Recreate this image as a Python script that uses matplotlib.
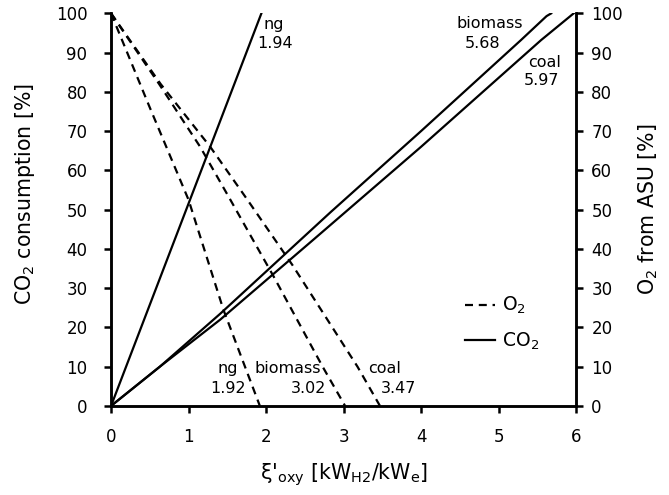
import matplotlib
matplotlib.use("Agg")
import matplotlib.pyplot as plt

# O2 from ASU [%] vs xi'_oxy (dashed)
o2_ng_x = [0, 0.50, 1.00, 1.45, 1.92]
o2_ng_y = [100, 76, 52.5, 24.5, 0]
o2_bio_x = [0, 0.62, 1.15, 1.54, 2.10, 2.73, 3.02]
o2_bio_y = [100, 82, 66, 52.5, 32.9, 10, 0]
o2_coal_x = [0, 0.64, 1.28, 1.76, 2.34, 3.18, 3.47]
o2_coal_y = [100, 82, 66, 52.5, 35.9, 10, 0]

# CO2 consumption [%] (solid)
co2_ng_x = [0, 1.94]
co2_ng_y = [0, 100]
co2_bio_x = [0, 0.63, 1.41, 2.83, 4.00, 5.29, 5.62, 5.68]
co2_bio_y = [0, 10, 23.5, 49.3, 70, 93.2, 99.3, 100]
co2_coal_x = [0, 0.63, 1.41, 2.62, 4.00, 5.55, 5.97]
co2_coal_y = [0, 10, 22, 42.5, 66, 93.2, 100]

x_ticks = [0, 1, 2, 3, 4, 5, 6]
y_ticks = [0, 10, 20, 30, 40, 50, 60, 70, 80, 90, 100]

fig = plt.figure(figsize=(6.69, 4.95), dpi=100)
ax = fig.add_axes([0.166, 0.180, 0.695, 0.793])
ax2 = ax.twinx()

lw = 1.6
dash = (0, (3.6, 2.6))
ax.plot(o2_ng_x, o2_ng_y, color="black", lw=lw, linestyle=dash)
ax.plot(o2_bio_x, o2_bio_y, color="black", lw=lw, linestyle=dash)
ax.plot(o2_coal_x, o2_coal_y, color="black", lw=lw, linestyle=dash, label="O$_2$")
ax.plot(co2_ng_x, co2_ng_y, color="black", lw=lw)
ax.plot(co2_bio_x, co2_bio_y, color="black", lw=lw)
ax.plot(co2_coal_x, co2_coal_y, color="black", lw=lw, label="CO$_2$")

fs = 11.5
# labels at line ends
ax.text(2.10, 97.1, "ng", fontsize=fs, ha="center", va="center")
ax.text(2.11, 92.2, "1.94", fontsize=fs, ha="center", va="center")
ax.text(4.89, 97.4, "biomass", fontsize=fs, ha="center", va="center")
ax.text(4.80, 92.4, "5.68", fontsize=fs, ha="center", va="center")
ax.text(5.60, 87.5, "coal", fontsize=fs, ha="center", va="center")
ax.text(5.56, 83.0, "5.97", fontsize=fs, ha="center", va="center")
ax.text(1.51, 9.6, "ng", fontsize=fs, ha="center", va="center")
ax.text(1.51, 4.4, "1.92", fontsize=fs, ha="center", va="center")
ax.text(2.28, 9.6, "biomass", fontsize=fs, ha="center", va="center")
ax.text(2.55, 4.4, "3.02", fontsize=fs, ha="center", va="center")
ax.text(3.53, 9.6, "coal", fontsize=fs, ha="center", va="center")
ax.text(3.71, 4.4, "3.47", fontsize=fs, ha="center", va="center")

ax.set_xlim(0, 6)
ax.set_ylim(0, 100)
ax2.set_ylim(0, 100)
ax.set_xticks(x_ticks)
ax.set_yticks(y_ticks)
ax2.set_yticks(y_ticks)

for a in (ax, ax2):
    for s in a.spines.values():
        s.set_linewidth(1.8)
    a.spines["top"].set_visible(False)
    a.tick_params(direction="out", length=5, width=1.8, labelsize=12, pad=6)
ax.tick_params(axis="x", pad=11)
ax.tick_params(axis="y", pad=12)

lab = 14.8
ax.set_xlabel("ξ'$_{\\mathregular{oxy}}$ [kW$_{\\mathregular{H2}}$/kW$_{\\mathregular{e}}$]",
              fontsize=lab)
ax.xaxis.set_label_coords(0.5, -0.14)
ax.set_ylabel("CO$_2$ consumption [%]", fontsize=lab)
ax.yaxis.set_label_coords(-0.16, 0.54)
ax2.set_ylabel("O$_2$ from ASU [%]", fontsize=lab, labelpad=10)

ax.legend(loc="center left", bbox_to_anchor=(0.724, 0.21), frameon=False,
          fontsize=13.5, handlelength=1.6, handletextpad=0.4, labelspacing=0.75)

fig.savefig("out.png", dpi=100)
